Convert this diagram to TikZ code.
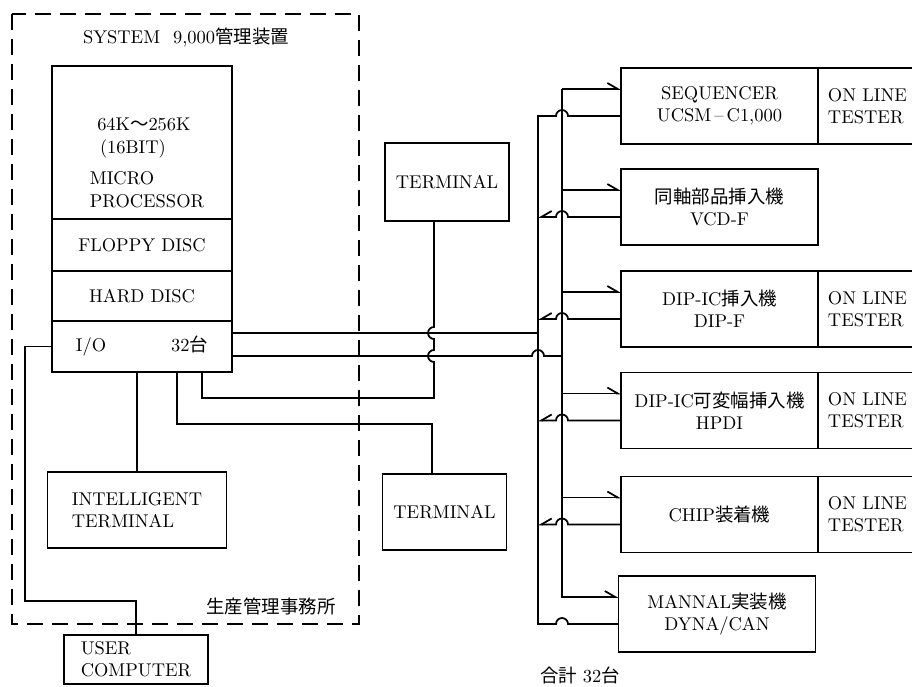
\documentclass[tikz,border=0pt]{standalone}
\usepackage{fontspec}
\newfontfamily\cjk{Noto Sans CJK JP}
\usetikzlibrary{arrows.meta}

\begin{document}
\begin{tikzpicture}[
	x=0.02cm, y=0.02cm,
	line width=1pt,
	unit/.style={
		rectangle,
		draw=black,
		minimum width=3.6cm,
		inner sep=0pt,
		outer sep=0pt,
		font=\fontsize{10.5}{13}\selectfont
	},
	box/.style={
		rectangle,
		draw=black,
		minimum width=2.48cm,
		minimum height=1.55cm,
		align=center,
		font=\fontsize{10.5}{12.5}\selectfont
	},
	machine/.style={
		rectangle,
		draw=black,
		minimum width=3.94cm,
		minimum height=1.52cm,
		outer sep=0pt,
		align=center,
		font=\fontsize{10.5}{12.5}\selectfont
	},
	tester/.style={
		rectangle,
		draw=black,
		anchor=west,
		text width=2cm,
		inner xsep=0.2cm,
		outer sep=0pt,
		minimum height=1.52cm,
		align=left,
		font=\fontsize{10.5}{12.5}\selectfont
	},
	caption/.style={inner sep=0pt, font=\fontsize{10.5}{13}\selectfont},
	office/.style={dash pattern=on 0.32cm off 0.18cm},
	wire/.style={line width=1pt},
	feed/.style={wire, -{Straight Barb[left, angle=60:2.4mm]}},
	back/.style={wire, -{Straight Barb[right, angle=60:2.4mm]}}
]
\useasboundingbox (0,0) rectangle (912,-686);

% office with the management unit
\draw[office] (12,-14) rectangle (359,-624);
\node[caption] (title) at (186,-37) {SYSTEM\hspace{0.7em}9,000{\cjk 管理装置}};
\node[caption] (place) at (271,-606) {{\cjk 生産管理事務所}};

\node[unit, minimum height=3.06cm] (micro) at (142,-142.5) {};
\node[caption, anchor=west, align=left] (microtext) at (89,-163) {\hspace{0.4em}64K{\cjk ～}256K\\\hspace{0.55em}(16BIT)\\[5pt]MICRO\\PROCESSOR};
\node[unit, minimum height=1.04cm, anchor=north] (floppy) at (micro.south) {FLOPPY DISC};
\node[unit, minimum height=1.0cm, anchor=north] (hard) at (floppy.south) {HARD DISC};
\node[unit, minimum height=1.02cm, anchor=north] (io) at (hard.south) {I/O\hspace{1.3cm}32{\cjk 台}};

\node[box, minimum width=3.58cm, minimum height=1.52cm, align=left] (intel) at (137,-510) {INTELLIGENT\\TERMINAL};
\node[box, minimum width=2.88cm, minimum height=0.98cm, align=left] (user) at (136,-659.5) {USER\\COMPUTER};

\node[box] (term1) at (447,-182) {TERMINAL};
\node[box, minimum height=1.52cm] (term2) at (444.5,-512) {TERMINAL};

% machines on the line
\node[machine] (seq) at (719.5,-106) {SEQUENCER\\UCSM\,--\,C1,000};
\node[tester] (seqt) at (seq.east) {ON LINE\\TESTER};
\node[machine] (vcd) at (719.5,-207) {{\cjk 同軸部品挿入機}\\VCD-F};
\node[machine] (dip) at (719.5,-309) {DIP-IC{\cjk 挿入機}\\DIP-F};
\node[tester] (dipt) at (dip.east) {ON LINE\\TESTER};
\node[machine] (hpdi) at (719.5,-410.5) {DIP-IC{\cjk 可変幅挿入機}\\HPDI};
\node[tester] (hpdit) at (hpdi.east) {ON LINE\\TESTER};
\node[machine] (chip) at (719.5,-514.5) {CHIP{\cjk 装着機}};
\node[tester] (chipt) at (chip.east) {ON LINE\\TESTER};
\node[machine] (mannal) at (717,-614) {MANNAL{\cjk 実装機}\\DYNA/CAN};

\node[caption] (total) at (580,-675) {{\cjk 合計}\hspace{0.3em}32{\cjk 台}};

\foreach \m in {seq,vcd,dip,hpdi,chip,mannal} {
	\coordinate (\m-in) at ([yshift=0.34cm]\m.west);
	\coordinate (\m-out) at ([yshift=-0.2cm]\m.west);
}
\coordinate (rbus) at (seq-in -| 562,0);
\coordinate (lbus) at (seq-out -| 538,0);
\coordinate (iohi) at ([yshift=0.27cm]io.east);
\coordinate (iolo) at ([yshift=-0.19cm]io.east);
\coordinate (tw) at ([xshift=-0.26cm]term1.south);

% bus to the machines
\draw[feed] (rbus) -- (seq-in);
\draw[feed] (rbus) |- (mannal-in);
\foreach \m in {vcd,dip,hpdi,chip}
	\draw[feed] (\m-in -| rbus) -- (\m-in);

% bus back from the machines
\foreach \m in {vcd,dip,hpdi,chip}
	\draw[back] (\m-out) -- ([xshift=0.12cm]\m-out -| rbus) arc[start angle=0, end angle=180, radius=0.12cm] -- (\m-out -| lbus);
\draw[wire] (seq-out) -- ([xshift=0.12cm]seq-out -| rbus) arc[start angle=0, end angle=180, radius=0.12cm] -- (lbus)
	|- ([xshift=-0.12cm]mannal-out -| rbus) arc[start angle=180, end angle=0, radius=0.12cm] -- (mannal-out);

% I/O lines
\draw[wire] (iohi) -- (iohi -| lbus);
\draw[wire] (iolo) -- ([xshift=-0.12cm]iolo -| lbus) arc[start angle=180, end angle=0, radius=0.12cm] -- (iolo -| rbus);
\draw[wire] (tw) -- ([yshift=0.12cm]iohi -| tw) arc[start angle=90, end angle=270, radius=0.12cm]
	-- ([yshift=0.12cm]iolo -| tw) arc[start angle=90, end angle=270, radius=0.12cm]
	-- ([yshift=-0.52cm]io.south -| tw) -| ([xshift=1.2cm]io.south);
\draw[wire] ([xshift=0.7cm]io.south) |- ([xshift=-0.25cm, yshift=0.98cm]term2.north) -- ([xshift=-0.25cm]term2.north);
\draw[wire] (intel.north) -- (intel.north |- io.south);
\draw[wire] (io.west) -| ([yshift=0.66cm]user.north -| 25,0) -| (user.north);
\end{tikzpicture}
\end{document}
